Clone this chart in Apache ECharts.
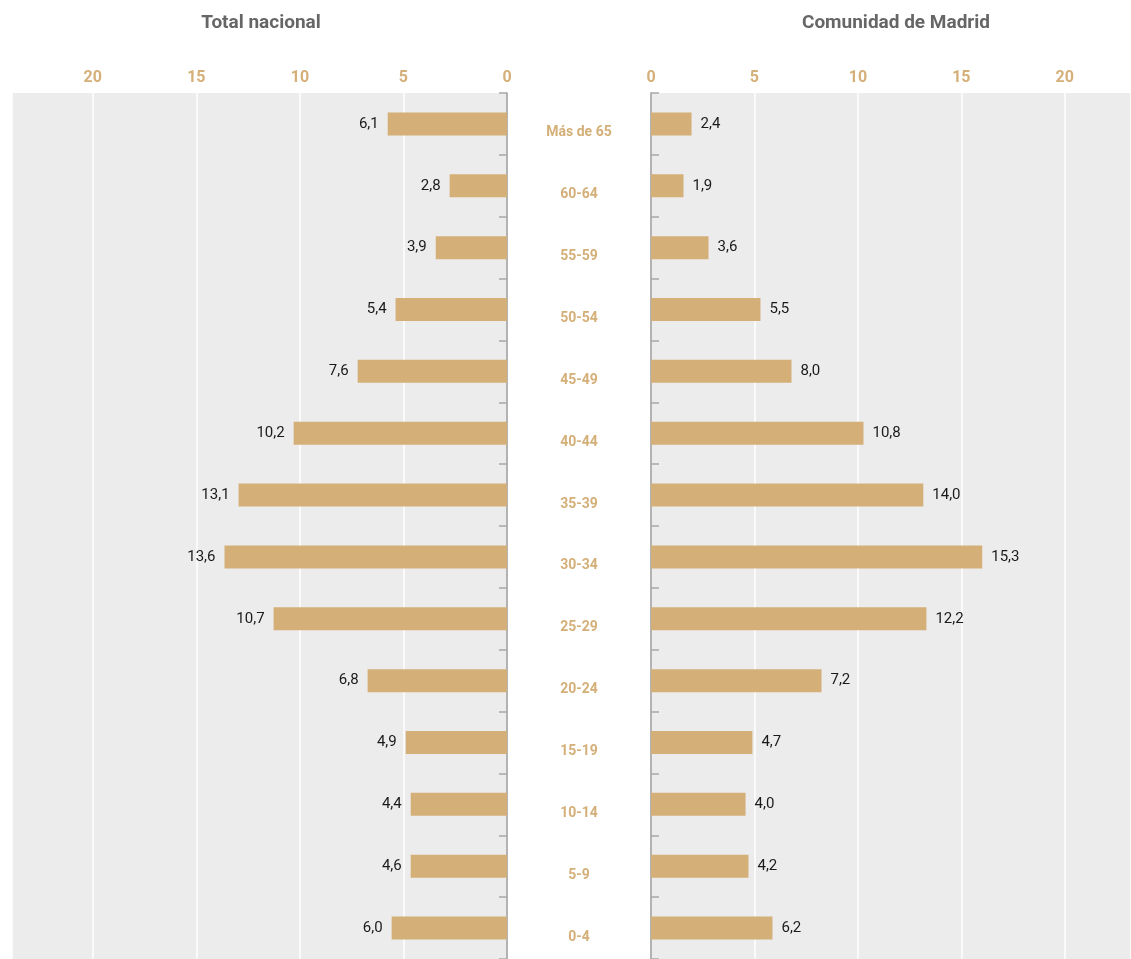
<!DOCTYPE html>
<html>
<head>
<meta charset="utf-8">
<script src="https://cdn.jsdelivr.net/npm/echarts@6/dist/echarts.min.js"></script>
<style>
  html, body { margin: 0; padding: 0; background: #fff; }
  #main { width: 1131px; height: 959px; }
</style>
</head>
<body>
<div id="main"></div>
<script>
// grupos de edad, de arriba abajo
const ageGroups = ['Más de 65', '60-64', '55-59', '50-54', '45-49', '40-44', '35-39',
  '30-34', '25-29', '20-24', '15-19', '10-14', '5-9', '0-4'];

// longitud de las barras tal como se dibujan
const barNacional = [5.76, 2.77, 3.44, 5.38, 7.21, 10.3, 12.96, 13.64, 11.27, 6.73, 4.89, 4.65, 4.65, 5.57];
const barMadrid = [1.96, 1.57, 2.78, 5.29, 6.79, 10.27, 13.16, 16.01, 13.31, 8.24, 4.9, 4.57, 4.71, 5.87];

// cifras impresas junto a cada barra
const labelNacional = ['6,1', '2,8', '3,9', '5,4', '7,6', '10,2', '13,1', '13,6', '10,7', '6,8', '4,9', '4,4', '4,6', '6,0'];
const labelMadrid = ['2,4', '1,9', '3,6', '5,5', '8,0', '10,8', '14,0', '15,3', '12,2', '7,2', '4,7', '4,0', '4,2', '6,2'];

const titles = ['Total nacional', 'Comunidad de Madrid'];

const FONT = 'Roboto, "DejaVu Sans Condensed", sans-serif';
const GOLD = '#d4af78';

const chart = echarts.init(document.getElementById('main'));

function valueAxis(idx, inverse, max) {
  return {
    type: 'value',
    gridIndex: idx,
    position: 'top',
    inverse: inverse,
    min: 0,
    max: max,
    interval: 5,
    axisLine: { show: false },
    axisTick: { show: false },
    axisLabel: {
      margin: 7,
      color: GOLD,
      fontFamily: FONT,
      fontWeight: 'bold',
      fontSize: 16,
      showMaxLabel: false,
      formatter: (v) => (v % 5 === 0 ? String(v) : '')
    },
    splitLine: { show: true, lineStyle: { color: '#ffffff', width: 1.5 } }
  };
}

function categoryAxis(idx, pos, showLabels) {
  return {
    type: 'category',
    gridIndex: idx,
    position: pos,
    inverse: true,
    data: ageGroups,
    axisLine: { show: true, lineStyle: { color: '#9a9a9a', width: 1.5 } },
    axisTick: { show: true, inside: true, length: 8, lineStyle: { color: '#a8a8a8', width: 1.5 } },
    axisLabel: {
      show: showLabels,
      margin: 72,
      align: 'center',
      verticalAlign: 'top',
      lineHeight: 18,
      color: GOLD,
      fontFamily: FONT,
      fontWeight: 'bold',
      fontSize: 14
    },
    splitLine: { show: false }
  };
}

const option = {
  backgroundColor: '#ffffff',
  animation: false,
  title: [
    {
      text: titles[0], left: 261, top: 14, textAlign: 'center', padding: 0,
      textStyle: { color: '#666666', fontFamily: FONT, fontWeight: 'bold', fontSize: 19 }
    },
    {
      text: titles[1], left: 896, top: 14, textAlign: 'center', padding: 0,
      textStyle: { color: '#666666', fontFamily: FONT, fontWeight: 'bold', fontSize: 19 }
    }
  ],
  grid: [
    { left: 12, width: 495, top: 93, height: 869, show: true, backgroundColor: '#ececec', borderWidth: 0 },
    { left: 651, right: 0, top: 93, height: 869, show: true, backgroundColor: '#ececec', borderWidth: 0 }
  ],
  xAxis: [valueAxis(0, true, 23.9), valueAxis(1, false, 23.2)],
  yAxis: [categoryAxis(0, 'right', true), categoryAxis(1, 'left', false)],
  series: [
    {
      name: titles[0],
      type: 'bar',
      xAxisIndex: 0,
      yAxisIndex: 0,
      barWidth: 23,
      data: barNacional,
      itemStyle: { color: GOLD },
      label: {
        show: true,
        position: 'left',
        distance: 9,
        color: '#1a1a1a',
        fontFamily: FONT,
        fontSize: 15,
        formatter: (p) => labelNacional[p.dataIndex]
      }
    },
    {
      name: titles[1],
      type: 'bar',
      xAxisIndex: 1,
      yAxisIndex: 1,
      barWidth: 23,
      data: barMadrid,
      itemStyle: { color: GOLD },
      label: {
        show: true,
        position: 'right',
        distance: 9,
        color: '#1a1a1a',
        fontFamily: FONT,
        fontSize: 15,
        formatter: (p) => labelMadrid[p.dataIndex]
      }
    }
  ]
};

chart.setOption(option);

window.addEventListener('resize', () => {
  chart.resize();
});
</script>
</body>
</html>
